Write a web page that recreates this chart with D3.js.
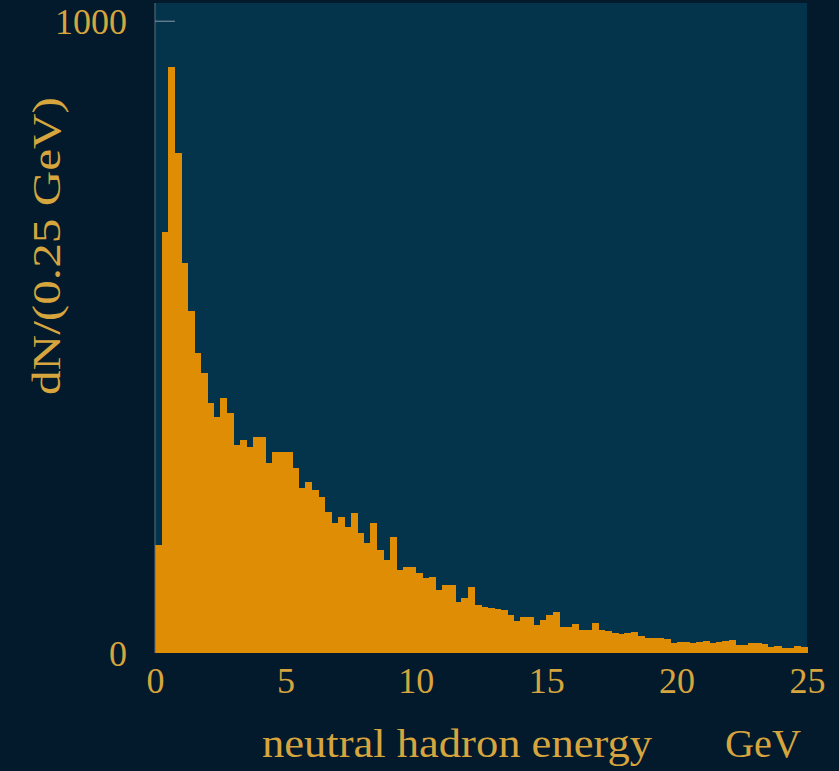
<!DOCTYPE html>
<html>
<head>
<meta charset="utf-8">
<script src="https://cdn.jsdelivr.net/npm/d3@7"></script>
<style>
  html, body { margin: 0; padding: 0; background: #031a2c; }
  svg { display: block; }
</style>
</head>
<body>
<div id="chart"></div>
<script>
// Histogram: counts per 0.25 GeV bin, 0 to 25 GeV (100 bins)
const binWidth = 0.25;
const counts = [
  171, 666, 927, 791, 617, 541, 475, 443, 396, 373,
  403, 380, 329, 337, 326, 342, 342, 301, 318, 318,
  318, 293, 261, 271, 258, 247, 223, 206, 215, 199,
  222, 190, 174, 206, 163, 147, 184, 131, 136, 136,
  127, 119, 120, 100, 108, 108, 81, 87, 104, 76,
  73, 71, 70, 68, 60, 51, 57, 57, 44, 52,
  60, 65, 41, 41, 46, 36, 36, 47, 36, 35,
  32, 30, 32, 33, 27, 24, 24, 24, 22, 16,
  17, 17, 16, 17, 19, 16, 17, 19, 21, 13,
  13, 16, 16, 14, 10, 11, 8, 8, 11, 10
];
const xTicks = [0, 5, 10, 15, 20, 25];
const yTicks = [0, 1000];
const xTitle = 'neutral hadron energy';
const xUnit = 'GeV';
const yTitle = 'dN/(0.25 GeV)';

const width = 839, height = 771;
const margin = { top: 3, right: 32, bottom: 118, left: 155 };

const textColor = '#d6a53e';
const barColor = '#e08d06';
const panelColor = '#03344b';
const serif = '"Liberation Serif", "DejaVu Serif", serif';

const svg = d3.select('#chart').append('svg')
  .attr('width', width)
  .attr('height', height);

const x = d3.scaleLinear().domain([0, 25]).range([margin.left, width - margin.right]);
const y = d3.scaleLinear().domain([0, 1028]).range([height - margin.bottom, margin.top]);

// panel
svg.append('rect')
  .attr('x', x(0)).attr('y', y(1028))
  .attr('width', x(25) - x(0)).attr('height', y(0) - y(1028))
  .attr('fill', panelColor);

// bars
svg.append('g')
  .attr('shape-rendering', 'crispEdges')
  .selectAll('rect')
  .data(counts)
  .join('rect')
  .attr('x', (d, i) => x(i * binWidth))
  .attr('y', d => y(d))
  .attr('width', (d, i) => x((i + 1) * binWidth) - x(i * binWidth) + 0.6)
  .attr('height', d => y(0) - y(d))
  .attr('fill', barColor);

// left edge line
svg.append('line')
  .attr('x1', x(0)).attr('x2', x(0))
  .attr('y1', y(1028)).attr('y2', y(0))
  .attr('stroke', '#5a7080').attr('stroke-width', 1);

// y axis
const yAxis = svg.append('g')
  .attr('transform', `translate(${x(0)},0)`)
  .call(d3.axisLeft(y).tickValues(yTicks).tickSizeInner(-20).tickSizeOuter(0).tickPadding(28).tickFormat(d3.format('d')));
yAxis.select('.domain').remove();
yAxis.selectAll('.tick line')
  .attr('stroke', '#8a9aa4')
  .attr('opacity', d => d === 0 ? 0 : 1);
yAxis.selectAll('.tick text')
  .attr('fill', textColor)
  .attr('font-family', serif)
  .attr('font-size', 36)
  .attr('dy', '0.35em');

// x axis
const xAxis = svg.append('g')
  .attr('transform', `translate(0,${y(0)})`)
  .call(d3.axisBottom(x).tickValues(xTicks).tickSize(0).tickPadding(14).tickFormat(d3.format('d')));
xAxis.select('.domain').remove();
xAxis.selectAll('.tick text')
  .attr('fill', textColor)
  .attr('font-family', serif)
  .attr('font-size', 36);

// axis titles
svg.append('text')
  .attr('x', 262).attr('y', 757)
  .attr('textLength', 390).attr('lengthAdjust', 'spacingAndGlyphs')
  .attr('fill', textColor)
  .attr('font-family', serif)
  .attr('font-size', 40)
  .text(xTitle);

svg.append('text')
  .attr('x', 725).attr('y', 757)
  .attr('textLength', 76).attr('lengthAdjust', 'spacingAndGlyphs')
  .attr('fill', textColor)
  .attr('font-family', serif)
  .attr('font-size', 40)
  .text(xUnit);

svg.append('text')
  .attr('transform', 'translate(60,395) rotate(-90)')
  .attr('textLength', 298).attr('lengthAdjust', 'spacingAndGlyphs')
  .attr('fill', textColor)
  .attr('font-family', serif)
  .attr('font-size', 40)
  .text(yTitle);
</script>
</body>
</html>
